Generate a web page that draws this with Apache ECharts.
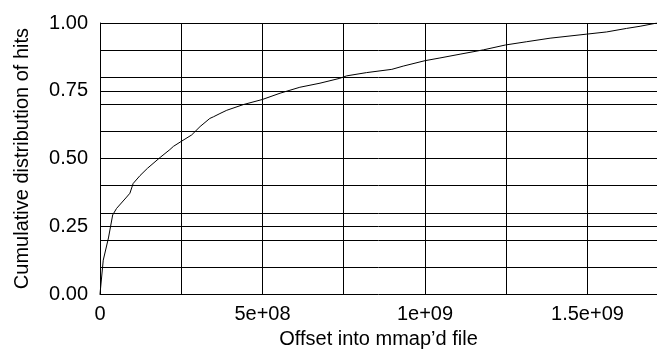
<!DOCTYPE html>
<html>
<head>
<meta charset="utf-8">
<script src="https://cdn.jsdelivr.net/npm/echarts@6/dist/echarts.min.js"></script>
<style>
  html, body { margin: 0; padding: 0; background: #fff; }
  #chart { width: 657px; height: 354px; }
</style>
</head>
<body>
<div id="chart"></div>
<script>
// Byte offset into the mmap'd file (bytes) and cumulative fraction of hits
const offsets = [
  0, 0.10e8, 0.26e8, 0.39e8, 0.51e8, 0.82e8, 0.92e8, 1.02e8, 1.23e8, 1.46e8,
  1.85e8, 2.15e8, 2.26e8, 2.51e8, 2.82e8, 3.08e8, 3.38e8, 3.49e8, 3.69e8, 3.90e8,
  4.41e8, 5.00e8, 5.54e8, 6.15e8, 6.77e8, 7.38e8, 7.59e8, 8.20e8, 8.98e8, 9.33e8,
  10.00e8, 10.46e8, 11.08e8, 11.80e8, 12.48e8, 13.13e8, 13.85e8, 14.98e8, 15.59e8, 16.20e8,
  16.62e8, 17.14e8
];
const cumulativeHits = [
  0, 0.125, 0.207, 0.292, 0.316, 0.358, 0.372, 0.408, 0.437, 0.464,
  0.504, 0.533, 0.545, 0.564, 0.587, 0.618, 0.648, 0.654, 0.666, 0.678,
  0.699, 0.718, 0.741, 0.763, 0.778, 0.796, 0.805, 0.817, 0.829, 0.841,
  0.861, 0.871, 0.885, 0.901, 0.919, 0.931, 0.944, 0.959, 0.967, 0.980,
  0.988, 1.0
];

// Axis tick labels
const xTickValues = [0, 5e8, 1e9, 1.5e9];
const xTickLabels = ['0', '5e+08', '1e+09', '1.5e+09'];
const yTickValues = [0, 0.25, 0.5, 0.75, 1];
const yTickLabels = ['0.00', '0.25', '0.50', '0.75', '1.00'];

// Horizontal grid rules
const yGridValues = [0.1, 0.2, 0.25, 0.3, 0.4, 0.5, 0.6, 0.7, 0.75, 0.8, 0.9, 1.0];

const FONT = '"Liberation Sans", Arial, Helvetica, sans-serif';
const points = offsets.map((x, i) => [x, cumulativeHits[i]]);

const chart = echarts.init(document.getElementById('chart'), null, { renderer: 'canvas' });
chart.setOption({
  animation: false,
  backgroundColor: '#fff',
  grid: { left: 100, right: 0, top: 23, bottom: 55, containLabel: false },
  xAxis: {
    type: 'value',
    min: 0,
    max: 17.14e8,
    interval: 2.5e8,
    name: "Offset into mmap\u2019d file",
    nameLocation: 'middle',
    nameGap: 33,
    nameTextStyle: { color: '#000', fontSize: 20, fontFamily: FONT },
    axisLine: { show: true, lineStyle: { color: '#000', width: 1 } },
    axisTick: { show: false },
    axisLabel: {
      color: '#000', fontSize: 20, fontFamily: FONT, margin: 10,
      showMaxLabel: false,
      formatter: v => {
        const i = xTickValues.findIndex(t => Math.abs(t - v) < 1);
        return i >= 0 ? xTickLabels[i] : '';
      }
    },
    splitLine: { show: true, lineStyle: { color: '#000', width: 1 } }
  },
  yAxis: {
    type: 'value',
    min: 0,
    max: 1,
    interval: 0.25,
    name: 'Cumulative distribution of hits',
    nameLocation: 'middle',
    nameGap: 68,
    nameTextStyle: { color: '#000', fontSize: 20, fontFamily: FONT },
    axisLine: { show: true, lineStyle: { color: '#000', width: 1 } },
    axisTick: { show: true, inside: true, length: 7, lineStyle: { color: '#000', width: 1 } },
    axisLabel: {
      color: '#000', fontSize: 20, fontFamily: FONT, margin: 12,
      formatter: v => {
        const i = yTickValues.findIndex(t => Math.abs(t - v) < 1e-9);
        return i >= 0 ? yTickLabels[i] : '';
      }
    },
    splitLine: { show: false }
  },
  series: [{
    type: 'line',
    data: points,
    showSymbol: false,
    smooth: false,
    lineStyle: { color: '#000', width: 1 },
    markLine: {
      silent: true,
      symbol: ['none', 'none'],
      label: { show: false },
      animation: false,
      lineStyle: { color: '#000', width: 1, type: 'solid' },
      data: yGridValues.map(v => ({ yAxis: v }))
    }
  }]
});
</script>
</body>
</html>
